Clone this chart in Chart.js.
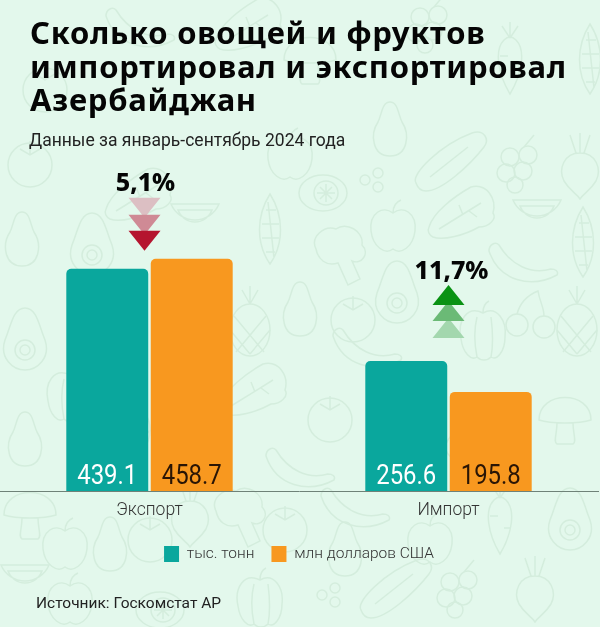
<!DOCTYPE html>
<html>
<head>
<meta charset="utf-8">
<style>
  html, body { margin: 0; padding: 0; }
  body { width: 600px; height: 627px; overflow: hidden; position: relative; background: #e3f8ec; font-family: Roboto, sans-serif; }
  #pattern, #chart, .txt { position: absolute; }
  #pattern { left: 0; top: 0; }
  #chart { left: 0; top: 0; }
  .txt { color: #111; white-space: nowrap; }
  #title { left: 30px; top: 16px; font: 700 31px/33.5px "Noto Sans", sans-serif; color: #050505; letter-spacing: 0.75px; }
  #sub { left: 29px; top: 130px; font: 400 17.5px/20px Roboto, sans-serif; color: #222; }
  #source { left: 36px; top: 594px; font: 400 15.5px/18px Roboto, sans-serif; color: #222; }
</style>
</head>
<body>
<svg id="pattern" width="600" height="627" fill="none" stroke="#d4eddd" stroke-width="1.5"></svg>
<canvas id="chart" width="600" height="627"></canvas>
<div class="txt" id="title">Сколько овощей и фруктов<br>импортировал и экспортировал<br>Азербайджан</div>
<div class="txt" id="sub">Данные за январь-сентябрь 2024 года</div>
<div class="txt" id="source">Источник: Госкомстат АР</div>
<script src="https://cdn.jsdelivr.net/npm/chart.js@4"></script>
<script>
const categories = ["Экспорт", "Импорт"];
const tonnes = [439.1, 256.6];
const dollars = [458.7, 195.8];
const seriesNames = ["тыс. тонн", "млн долларов США"];
const changes = ["5,1%", "11,7%"];
const changeUp = [false, true];

const teal = "#0aa79d";
const orange = "#f8981f";

// ---------- Background doodles ----------
const doodles = {
  apple: '<path d="M0-14C-10-22-24-14-22 4C-20 20-8 28 0 22C8 28 20 20 22 4C24-14 10-22 0-14ZM0-14C0-20 3-25 8-27"/>',
  pear: '<path d="M0-28C-8-28-8-16-12-8C-20 4-18 26 0 26C18 26 20 4 12-8C8-16 8-28 0-28Z"/>',
  avocado: '<path d="M0-32C-12-32-14-14-20 0C-26 18-12 30 0 30C12 30 26 18 20 0C14-14 12-32 0-32Z"/><circle cy="10" r="10"/><circle cy="10" r="5"/>',
  melon: '<path d="M-24-10A26 26 0 0 0 24-10ZM-17-4A18 18 0 0 0 17-4Z"/>',
  tomato: '<circle r="22"/><path d="M-10-16L0-10L10-16M0-10V-24"/>',
  cucumber: '<path d="M-34 20C-40 12-10-18 22-30C34-34 40-24 34-16C20 2-8 28-24 28C-28 28-32 26-34 20Z"/><path d="M-20 14L18-16"/>',
  cherry: '<circle cx="-13" cy="12" r="11"/><circle cx="14" cy="14" r="11"/><path d="M-13 1C-10-10-2-18 8-22C10-10 14-6 14 3"/>',
  pepper: '<path d="M0-20C-16-28-26-12-22 6C-20 20-12 28-6 24C-2 28 4 28 8 24C14 28 22 18 22 4C24-12 14-28 0-20ZM0-20C0-26 2-30 6-32M-6-16C-10 0-8 14-6 24M8-16C10 0 10 14 8 24"/>',
  banana: '<path d="M-34-14C-24 16 8 24 34 10C36 6 32 4 28 4C8 10-12 0-24-20C-28-24-34-20-34-14Z"/>',
  mushroom: '<path d="M-26 0C-26-30 26-30 26 0C14 4-14 4-26 0ZM-8 3C-8 14-12 22-8 24H8C12 22 8 14 8 3"/>',
  pineapple: '<ellipse rx="20" ry="26"/><path d="M-16-14L14 22M16-14L-14 22M-20 0L0 24M20 0L0 24M0-26L-8-40M0-26V-44M0-26L8-40"/>',
  carrot: '<path d="M-6-20C-16-10-12 14 0 34C12 14 16-10 6-20C2-24-2-24-6-20ZM0-22L-8-34M0-22L0-38M0-22L8-34M-10-4H-2M4 8H10"/>',
  lettuce: '<path d="M-34 14C-30 0-10-16 8-26C24-30 34-14 30 0C34 6 26 14 16 14C2 22-20 28-30 24C-34 22-36 18-34 14ZM-24 16L18-10M0 2L-4-8M6-2L14 4"/>',
  corn: '<path d="M0-36C-14-14-14 14 0 34C14 14 14-14 0-36ZM-4-20H6M-8-6H9M-8 8H9M-4 22H5M-2-28L4 28"/>',
  grape: '<circle cx="-10" cy="-8" r="9"/><circle cx="8" cy="-10" r="9"/><circle cx="-14" cy="8" r="9"/><circle cx="3" cy="6" r="9"/><circle cx="-5" cy="20" r="8"/><path d="M4-18L14-30"/>',
  beet: '<path d="M0-14C-16-14-22 2-16 14C-10 24-4 26 0 32C4 26 10 24 16 14C22 2 16-14 0-14ZM-4-14L-10-32M0-14V-34M4-14L10-32"/>',
  lemon: '<ellipse rx="24" ry="18"/><circle cx="3" r="12"/><path d="M-6 0H12M3-9V9M-3-6L9 6M9-6L-3 6"/>',
  broccoli: '<path d="M-24-4C-30-16-16-28-4-24C6-32 24-22 22-8C30 0 22 12 12 8L20 26L8 32L-2 10C-14 14-22 6-24-4Z"/>',
  dots: '<circle cx="-8" r="5"/><circle cx="5" cy="-7" r="5"/><circle cx="5" cy="7" r="5"/>'
};
const placed = [
  ["pear",22,240],["avocado",92,245],["melon",195,214],["lettuce",140,195],["tomato",45,90],["tomato",30,165],
  ["lemon",323,193],["dots",373,180],["corn",270,230],["apple",393,227],["lettuce",463,213],["melon",537,210],
  ["corn",583,243],["broccoli",340,253],["banana",523,265],["avocado",397,293],["pear",300,310],["tomato",353,320],
  ["pineapple",250,330],["cherry",530,313],["pepper",483,333],["pineapple",577,330],["banana",367,350],
  ["cucumber",450,163],["grape",520,165],["beet",580,167],["apple",290,155],["pear",390,130],["mushroom",310,60],
  ["banana",140,30],["lettuce",250,25],["carrot",510,60],["grape",430,25],["corn",590,60],
  ["avocado",25,340],["pepper",70,395],["apple",180,400],["pineapple",130,430],["lettuce",255,390],["tomato",330,420],
  ["cucumber",480,430],["mushroom",565,420],["pear",25,440],["banana",300,470],["apple",400,420],
  ["mushroom",30,515],["apple",65,545],["pear",110,545],["tomato",150,540],["melon",25,575],["beet",190,515],
  ["broccoli",240,515],["tomato",285,530],["banana",355,510],["apple",430,540],["carrot",500,520],["avocado",570,520],
  ["cucumber",395,590],["dots",330,595],["grape",460,590],["beet",535,590],["pepper",260,600],["apple",70,600],["lemon",160,610],["pear",345,550]
];
document.getElementById("pattern").innerHTML = placed
  .map(([name, x, y]) => `<g transform="translate(${x} ${y})">${doodles[name]}</g>`)
  .join("");

// ---------- Labels inside the bars, change markers above ----------
const barLabels = {
  id: "barLabels",
  afterDatasetsDraw(chart) {
    const { ctx } = chart;
    chart.data.datasets.forEach((ds, d) => {
      chart.getDatasetMeta(d).data.forEach((bar, i) => {
        ctx.save();
        ctx.font = '400 27.5px Roboto, sans-serif';
        ctx.textAlign = "center";
        ctx.textBaseline = "alphabetic";
        ctx.fillStyle = d === 0 ? "#ffffff" : "#2a1505";
        // the original digits are narrower than Roboto
        ctx.translate(bar.x, chart.scales.y.getPixelForValue(0) - 7);
        ctx.scale(0.87, 1);
        ctx.fillText(ds.data[i].toFixed(1), 0, 0);
        ctx.restore();
      });
    });
  },
};

const reds = ["#dcbfc3", "#cf8a95", "#b5152f"];
const greens = ["#a3d7ae", "#6bba76", "#0a9214"];
const changeMarks = {
  id: "changeMarks",
  afterDatasetsDraw(chart) {
    const { ctx, scales } = chart;
    categories.forEach((_, i) => {
      const up = changeUp[i];
      const cx = scales.x.getPixelForValue(i) + (up ? 0 : -5);
      const top = scales.y.getPixelForValue(Math.max(tonnes[i], dollars[i]));
      const tip = up ? top - 76 : top - 8;
      const colors = up ? greens : reds;
      const steps = up ? [33, 16, 0] : [-33, -16, 0];
      colors.forEach((c, k) => {
        const apex = tip + steps[k];
        const base = up ? apex + 20 : apex - 20;
        ctx.beginPath();
        ctx.moveTo(cx, apex);
        ctx.lineTo(cx - 16, base);
        ctx.lineTo(cx + 16, base);
        ctx.closePath();
        ctx.fillStyle = c;
        ctx.fill();
      });
      ctx.save();
      ctx.font = '800 25px "Noto Sans", sans-serif';
      ctx.textAlign = "center";
      ctx.textBaseline = "alphabetic";
      ctx.fillStyle = "#050505";
      const textY = up ? tip - 6 : tip - 60;
      ctx.fillText(changes[i], cx + (up ? 3 : 1), textY);
      ctx.restore();
    });
  },
};

new Chart(document.getElementById("chart"), {
  type: "bar",
  data: {
    labels: categories,
    datasets: [
      { label: seriesNames[0], data: tonnes, backgroundColor: teal },
      { label: seriesNames[1], data: dollars, backgroundColor: orange },
    ],
  },
  options: {
    responsive: false,
    animation: false,
    categoryPercentage: 0.565,
    barPercentage: 0.97,
    layout: { padding: { right: 2, bottom: 55 } },
    elements: { bar: { borderRadius: { topLeft: 5, topRight: 5 }, borderSkipped: "bottom" } },
    plugins: {
      tooltip: { enabled: false },
      legend: {
        position: "bottom",
        labels: {
          boxWidth: 15,
          boxHeight: 16,
          padding: 17,
          color: "#333",
          font: { family: "Roboto, sans-serif", size: 15.5, weight: "300" },
        },
      },
    },
    scales: {
      x: {
        afterFit: (axis) => { axis.height = 38; },
        grid: { display: false },
        border: { color: "#6f8278", width: 1 },
        ticks: { color: "#333", padding: 1, font: { family: "Roboto, sans-serif", size: 17.5, weight: "300" } },
      },
      y: { display: false, min: 0, max: 970 },
    },
  },
  plugins: [barLabels, changeMarks],
});
</script>
</body>
</html>
